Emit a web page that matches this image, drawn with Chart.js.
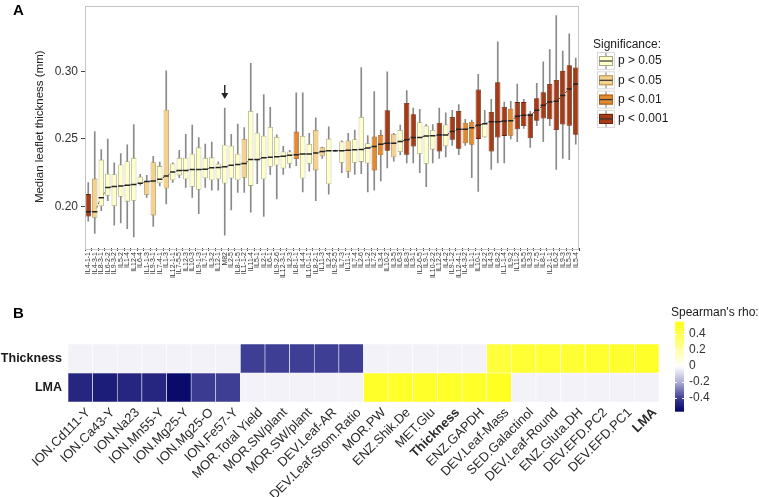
<!DOCTYPE html>
<html><head><meta charset="utf-8">
<script src="https://cdn.jsdelivr.net/npm/chart.js@4.4.0/dist/chart.umd.min.js"></script>
<style>
html,body{margin:0;padding:0;background:#fff;width:759px;height:497px;overflow:hidden;font-family:"Liberation Sans",Arial,sans-serif;}
#wa{position:absolute;left:0;top:0;width:759px;height:315px;}
#wb{position:absolute;left:0;top:300px;width:759px;height:197px;}
.lbl{position:absolute;font-weight:bold;font-size:15px;line-height:15px;color:#000;}
</style></head><body>
<div id="wa"><canvas id="ca" width="759" height="315"></canvas></div>
<div id="wb"><canvas id="cb" width="759" height="197"></canvas></div>
<div class="lbl" style="left:13px;top:2px">A</div>
<div class="lbl" style="left:13px;top:305px">B</div>
<script>
// ---------- Panel A data ----------
const ilLabels = ["IL4-1-1","IL4-3-1","IL8-3-1","IL6-2-2","IL9-3-2","IL5-2","IL1-4","IL12-4","IL6-4","IL1-1-3",
"IL9-3-1","IL7-4-1","IL1-3","IL12-1-1","IL7-5-5","IL12-3","IL10-3","IL9-1-3","IL7-1","IL3-2",
"IL12-1","M82","IL2-5","IL8-1-5","IL1-1-2","IL11-4","IL5-1","IL2-1","IL6-1","IL9-2-6",
"IL12-3-1","IL2-3","IL8-1-1","IL4-4","IL10-1-1","IL8-2-1","IL11-3","IL2-4","IL9-2-5","IL7-3",
"IL11-1","IL7-4","IL2-6","IL1-2","IL7-2","IL3-4","IL10-2","IL3-5","IL6-3","IL8-3",
"IL3-1","IL2-6-5","IL9-1","IL10-2-2","IL12-2","IL4-2","IL9-1-2","IL12-4-1","IL4-3-2","IL1-1",
"IL10-1","IL2-2","IL4-3","IL8-2","IL1-1-4","IL9-2","IL11-2","IL5-5","IL3-3","IL7-5",
"IL8-1","IL2-1-1","IL6-2","IL9-3","IL5-3","IL5-4"];
const whiskLow = [0.189,0.1798,0.1968,0.2041,0.1859,0.1876,0.1834,0.1773,0.2156,0.2066,
0.1851,0.2151,0.2017,0.2176,0.2212,0.2139,0.2066,0.1944,0.2139,0.212,
0.212,0.1785,0.1973,0.2102,0.2102,0.1956,0.2168,0.1924,0.2237,0.2054,
0.2237,0.2285,0.2302,0.2107,0.2261,0.2041,0.2354,0.209,0.2408,0.2249,
0.2212,0.2237,0.2241,0.2107,0.212,0.2188,0.2285,0.2334,0.2383,0.2322,
0.2322,0.2249,0.2146,0.2322,0.2354,0.2366,0.2451,0.2383,0.2451,0.2212,
0.211,0.2512,0.2273,0.2322,0.2322,0.25,0.248,0.2578,0.2437,0.2598,
0.248,0.2598,0.2273,0.2354,0.2346,0.2461];
const q1 = [0.1924,0.1915,0.2,0.2078,0.2002,0.207,0.2034,0.2041,0.2163,0.2083,
0.1932,0.217,0.2132,0.2193,0.2229,0.22,0.2144,0.2122,0.2207,0.2193,
0.22,0.2168,0.2205,0.2193,0.2212,0.2151,0.2339,0.22,0.2293,0.2302,
0.228,0.2315,0.2351,0.2205,0.2315,0.2266,0.2371,0.2163,0.241,0.2322,
0.2256,0.2322,0.2329,0.2317,0.2266,0.2378,0.2412,0.2363,0.2402,0.2383,
0.2444,0.2388,0.2315,0.242,0.2407,0.2444,0.2493,0.2427,0.2468,0.2456,
0.25,0.2512,0.2407,0.251,0.2522,0.2524,0.2571,0.2595,0.2505,0.2634,
0.2651,0.2646,0.2566,0.2607,0.2598,0.2531];
const medians = [0.196,0.196,0.2063,0.2139,0.2146,0.2151,0.2156,0.2161,0.217,0.2183,
0.2188,0.22,0.2224,0.2254,0.2266,0.2266,0.2273,0.2273,0.2275,0.2285,
0.2287,0.2293,0.2305,0.231,0.2317,0.2346,0.2346,0.2359,0.2363,0.2368,
0.2371,0.2378,0.2383,0.2388,0.2388,0.2395,0.2407,0.2412,0.2412,0.2412,
0.2415,0.242,0.2422,0.2432,0.2444,0.2461,0.2468,0.2468,0.248,0.2493,
0.251,0.251,0.2522,0.2524,0.2529,0.2529,0.2554,0.2571,0.2571,0.2583,
0.2602,0.2613,0.2627,0.2627,0.2632,0.2634,0.2668,0.2676,0.2676,0.2712,
0.2749,0.2773,0.278,0.2822,0.287,0.2907];
const q3 = [0.209,0.2205,0.2346,0.2241,0.2237,0.231,0.2334,0.2359,0.222,0.2188,
0.2327,0.2298,0.2717,0.2317,0.2359,0.236,0.239,0.2437,0.2359,0.2363,
0.2315,0.2456,0.2449,0.239,0.25,0.2707,0.2546,0.2524,0.2588,0.2515,
0.2407,0.2407,0.2554,0.2522,0.2463,0.2566,0.2437,0.2502,0.2415,0.248,
0.2488,0.2498,0.2663,0.2468,0.2517,0.2529,0.2712,0.2537,0.2566,0.2766,
0.2683,0.2624,0.2598,0.2566,0.262,0.2607,0.2663,0.2707,0.262,0.2627,
0.2866,0.2617,0.27,0.292,0.2737,0.2724,0.2773,0.2773,0.2688,0.2802,
0.2846,0.2907,0.2937,0.3005,0.3046,0.3029];
const whiskHigh = [0.2176,0.2554,0.242,0.2498,0.2322,0.239,0.2456,0.2607,0.2237,0.2229,
0.237,0.2327,0.3005,0.2322,0.2415,0.2534,0.2602,0.251,0.2461,0.2476,
0.233,0.2729,0.2534,0.261,0.2583,0.3061,0.2688,0.2829,0.2734,0.253,
0.2444,0.2415,0.2841,0.2841,0.2541,0.2656,0.244,0.259,0.2417,0.2485,
0.2541,0.2566,0.3029,0.2524,0.2851,0.2566,0.2998,0.2541,0.2602,0.2859,
0.2729,0.272,0.2607,0.2607,0.2729,0.2693,0.2712,0.2754,0.2646,0.2639,
0.298,0.2712,0.2793,0.322,0.2773,0.2778,0.2907,0.2793,0.2705,0.2912,
0.3071,0.3163,0.3415,0.3151,0.328,0.31];
// significance class: 0 p>0.05, 1 p<0.05, 2 p<0.01, 3 p<0.001
const sigClass = [3,1,0,0,0,0,0,0,0,1,
1,0,1,0,0,0,0,0,0,0,
0,0,0,0,1,0,0,0,0,0,
0,0,2,0,0,1,1,0,0,0,
1,0,0,0,2,2,3,1,0,3,
3,0,0,0,3,0,3,3,2,2,
3,0,3,3,3,2,3,3,3,3,
3,3,3,3,3,3];
const sigLabels = ["p > 0.05","p < 0.05","p < 0.01","p < 0.001"];
const yTicksA = [0.20,0.25,0.30];
const arrowLabel = "M82";

// ---------- Panel B data ----------
const heatCols = ["ION.Cd111-Y","ION.Ca43-Y","ION.Na23","ION.Mn55-Y","ION.Mg25-Y","ION.Mg25-O","ION.Fe57-Y",
"MOR.Total Yield","MOR.SN/plant","MOR.SW/plant","DEV.Leaf-AR","DEV.Leaf-Stom.Ratio","MOR.PW","ENZ.Shik.De",
"MET.Glu","Thickness","ENZ.GAPDH","DEV.Leaf-Mass","SED.Galactinol","DEV.Leaf-Round","ENZ.Gluta.DH",
"DEV.EFD.PC2","DEV.EFD.PC1","LMA"];
const heatRows = ["Thickness","LMA"];
const thicknessRho = [null,null,null,null,null,null,null,-0.40,-0.40,-0.40,-0.40,-0.40,
null,null,null,null,null,0.44,0.47,0.47,0.47,0.48,0.48,0.50];
const lmaRho = [-0.47,-0.50,-0.47,-0.47,-0.55,-0.41,-0.40,null,null,null,null,null,
0.50,0.50,0.50,0.50,0.50,0.52,null,null,null,null,null,null];
const boldCols = ["Thickness","LMA"];
const rhoTicks = [0.4,0.2,0,-0.2,-0.4];
const rhoRange = [-0.571,0.554];

// ---------- styles ----------
const FONT = "'Liberation Sans', Arial, sans-serif";
Chart.defaults.font.family = FONT;
Chart.defaults.color = '#333';
const sigFill = ['#FFFFCC','#F4D18D','#E08A34','#A53B17'];
const sigLine = ['#A9A985','#B09055','#A4601F','#6A240C'];
const naColor = '#F2F2F8';
const negStops = [[0,[255,255,255]],[0.2,[176,176,214]],[0.4,[62,62,148]],[0.58,[0,0,100]]];
const posStops = [[0,[255,255,255]],[0.2,[255,255,165]],[0.4,[255,255,75]],[0.56,[255,255,20]]];
function colorFor(v){
  if(v===null || v===undefined) return naColor;
  const st = v<0?negStops:posStops; const a=Math.abs(v);
  for(let i=1;i<st.length;i++){
    if(a<=st[i][0] || i===st.length-1){
      const t=Math.min(1,(a-st[i-1][0])/(st[i][0]-st[i-1][0]));
      const c=st[i-1][1].map((c0,k)=>Math.round(c0+(st[i][1][k]-c0)*t));
      return `rgb(${c[0]},${c[1]},${c[2]})`;
    }
  }
}

// ---------- Panel A plugins ----------
const panelBorder = {
  id:'panelBorder',
  afterDatasetsDraw(chart){
    const {ctx, chartArea:a} = chart;
    ctx.save(); ctx.strokeStyle='#c4c4c4'; ctx.lineWidth=1;
    ctx.strokeRect(Math.round(a.left)+0.5, Math.round(a.top)+0.5, Math.round(a.right-a.left)-1, Math.round(a.bottom-a.top));
    ctx.restore();
  }
};
const arrowPlugin = {
  id:'arrowPlugin',
  afterDatasetsDraw(chart){
    const idx = ilLabels.indexOf(arrowLabel); if(idx<0) return;
    const x = chart.scales.x.getPixelForValue(idx);
    const yTip = chart.scales.y.getPixelForValue(whiskHigh[idx]) - 9;
    const ctx = chart.ctx; ctx.save();
    ctx.strokeStyle='#222'; ctx.fillStyle='#222'; ctx.lineWidth=1.4;
    ctx.beginPath(); ctx.moveTo(x, yTip-14); ctx.lineTo(x, yTip-5); ctx.stroke();
    ctx.beginPath(); ctx.moveTo(x-3.5, yTip-6); ctx.lineTo(x+3.5, yTip-6); ctx.lineTo(x, yTip); ctx.closePath(); ctx.fill();
    ctx.restore();
  }
};
const sigLegend = {
  id:'sigLegend',
  afterDraw(chart){
    const ctx = chart.ctx; ctx.save();
    ctx.font = `12px ${FONT}`; ctx.fillStyle='#1a1a1a'; ctx.textBaseline='middle'; ctx.textAlign='left';
    ctx.fillText('Significance:', 593, 45);
    sigLabels.forEach((lab,i)=>{
      const cy = 61 + i*19.3, x0 = 597, w = 18;
      ctx.strokeStyle='#d9d9d9'; ctx.lineWidth=1; ctx.fillStyle='#fff';
      ctx.fillRect(x0, cy-9, w, 18); ctx.strokeRect(x0+0.5, cy-8.5, w-1, 17);
      ctx.strokeStyle='#777'; ctx.beginPath(); ctx.moveTo(x0+9, cy-8); ctx.lineTo(x0+9, cy+8); ctx.stroke();
      ctx.fillStyle=sigFill[i]; ctx.fillRect(x0+2, cy-5, w-4, 10);
      ctx.strokeStyle=sigLine[i]; ctx.strokeRect(x0+2.5, cy-4.5, w-5, 9);
      ctx.strokeStyle='#333'; ctx.lineWidth=1.2; ctx.beginPath(); ctx.moveTo(x0+2.5, cy); ctx.lineTo(x0+w-2.5, cy); ctx.stroke();
      ctx.fillStyle='#1a1a1a'; ctx.fillText(lab, 618, cy);
    });
    ctx.restore();
  }
};

new Chart(document.getElementById('ca'), {
  type:'bar',
  data:{
    labels: ilLabels,
    datasets:[
      {type:'bar', label:'whiskers', data: whiskLow.map((l,i)=>[l, whiskHigh[i]]), backgroundColor:'#8a8a8a',
        barThickness:1, grouped:false, order:4},
      {type:'line', label:'trend', data: medians, borderColor:'#3a3a3a', borderWidth:1, borderDash:[3,2],
        pointRadius:0, tension:0, order:3},
      {type:'bar', label:'boxes', data: q1.map((l,i)=>[l, q3[i]]), backgroundColor: sigClass.map(s=>sigFill[s]),
        borderColor: sigClass.map(s=>sigLine[s]), borderWidth:0.8, borderSkipped:false,
        barPercentage:0.82, categoryPercentage:1, grouped:false, order:2},
      {type:'line', label:'medians', data: medians, showLine:false, pointStyle:'line', pointRadius:2.6,
        pointBorderColor:'#222', pointBorderWidth:1.5, order:1}
    ]
  },
  options:{
    responsive:false, animation:false, events:[],
    layout:{padding:{left:0, right:180, top:2, bottom:0}},
    plugins:{legend:{display:false}, tooltip:{enabled:false}},
    scales:{
      x:{ type:'category', offset:true,
        grid:{display:true, drawOnChartArea:false, drawTicks:true, tickLength:3, color:'#444'},
        border:{display:false},
        ticks:{autoSkip:false, minRotation:90, maxRotation:90, padding:1, font:{size:7}, color:'#333'},
        afterFit(s){ s.height = 67; s.paddingLeft = 0; s.paddingRight = 0; }
      },
      y:{ type:'linear', min:0.169, max:0.349,
        grid:{display:true, drawOnChartArea:false, drawTicks:true, tickLength:4, color:'#444'},
        border:{display:false},
        afterBuildTicks(s){ s.ticks = yTicksA.map(v=>({value:v})); },
        ticks:{callback:v=>v.toFixed(2), font:{size:12}, color:'#333', padding:3},
        title:{display:true, text:'Median leaflet thickness (mm)', font:{size:11.5}, color:'#222', padding:{top:33,bottom:0}},
        afterFit(s){ s.width = 85; s.paddingTop = 0; s.paddingBottom = 0; }
      }
    }
  },
  plugins:[panelBorder, arrowPlugin, sigLegend]
});

// ---------- Panel B ----------
const rhoLegend = {
  id:'rhoLegend',
  afterDraw(chart){
    const ctx = chart.ctx; ctx.save();
    const x0=675, w=9, zeroY=66, pxPer=80;
    const yOf = v => zeroY - v*pxPer;
    const top = yOf(rhoRange[1]), bot = yOf(rhoRange[0]);
    const g = ctx.createLinearGradient(0, top, 0, bot);
    for(let k=0;k<=40;k++){
      const v = rhoRange[1] + (rhoRange[0]-rhoRange[1])*k/40;
      g.addColorStop(k/40, colorFor(v));
    }
    ctx.fillStyle=g; ctx.fillRect(x0, top, w, bot-top);
    ctx.strokeStyle='#fff'; ctx.lineWidth=1;
    ctx.font=`12px ${FONT}`; ctx.textBaseline='middle'; ctx.textAlign='left'; ctx.fillStyle='#333';
    rhoTicks.forEach(v=>{
      const y = Math.round(yOf(v))+0.5;
      ctx.beginPath(); ctx.moveTo(x0,y); ctx.lineTo(x0+2,y); ctx.moveTo(x0+w-2,y); ctx.lineTo(x0+w,y); ctx.stroke();
      ctx.fillText(v===0?'0':v.toFixed(1), 689, yOf(v));
    });
    ctx.fillStyle='#1a1a1a';
    ctx.fillText("Spearman's rho:", 671, 13);
    ctx.restore();
  }
};

new Chart(document.getElementById('cb'), {
  type:'bar',
  data:{
    labels: heatCols,
    datasets:[
      {label: heatRows[0], data: heatCols.map(()=>[1,2]), backgroundColor: thicknessRho.map(colorFor),
        borderColor:'rgba(255,255,255,0.8)', borderWidth:0.6, borderSkipped:false,
        barPercentage:1, categoryPercentage:1, grouped:false},
      {label: heatRows[1], data: heatCols.map(()=>[0,1]), backgroundColor: lmaRho.map(colorFor),
        borderColor:'rgba(255,255,255,0.8)', borderWidth:0.6, borderSkipped:false,
        barPercentage:1, categoryPercentage:1, grouped:false}
    ]
  },
  options:{
    responsive:false, animation:false, events:[],
    layout:{padding:{left:0, right:100, top:44, bottom:0}},
    plugins:{legend:{display:false}, tooltip:{enabled:false}},
    scales:{
      x:{ type:'category', offset:true, grid:{display:false, drawTicks:false}, border:{display:false},
        ticks:{autoSkip:false, minRotation:45, maxRotation:45, padding:3, labelOffset:8, color:'#2a2a2a',
          font:(c)=>({size:13, weight: boldCols.includes(heatCols[c.index]) ? 'bold':'normal'})},
        afterFit(s){ s.height = 95; s.paddingLeft = 0; s.paddingRight = 0; }
      },
      y:{ type:'linear', min:0, max:2, grid:{display:false, drawTicks:false}, border:{display:false},
        afterBuildTicks(s){ s.ticks = [{value:1.5},{value:0.5}]; },
        ticks:{callback:v=> v>1 ? heatRows[0] : heatRows[1], font:{size:12.5, weight:'bold'}, color:'#1a1a1a', padding:6},
        afterFit(s){ s.width = 68; s.paddingTop = 0; s.paddingBottom = 0; }
      }
    }
  },
  plugins:[rhoLegend]
});
</script>
</body></html>
